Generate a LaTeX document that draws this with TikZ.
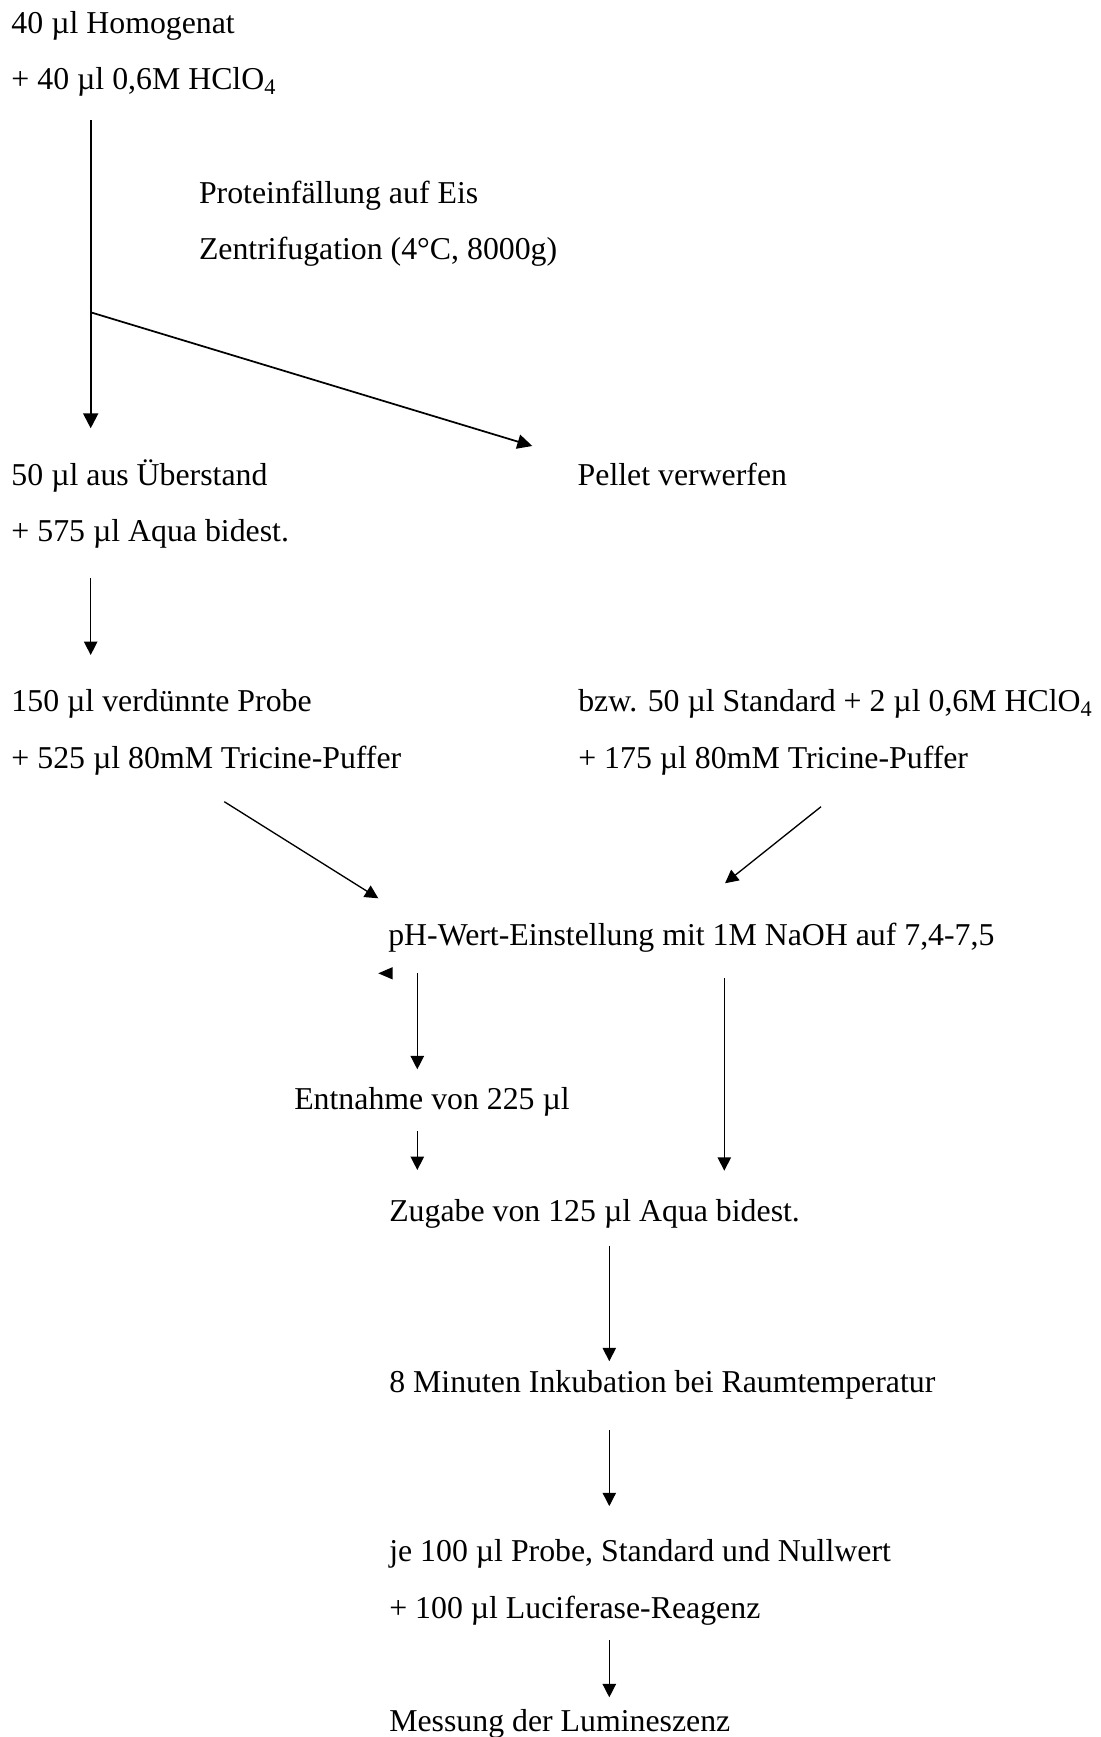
\documentclass[tikz,border=0pt]{standalone}
\usepackage{fontspec}
\setmainfont{Liberation Serif}
\usetikzlibrary{arrows.meta}

\begin{document}
\begin{tikzpicture}[x=0.375pt,y=-0.375pt,
  txt/.style={anchor=base west,inner sep=0pt,outer sep=0pt,font=\fontsize{11.93}{14}\selectfont},
  flow/.style={line width=0.5pt,-{Triangle[length=5pt,width=5pt]}},
  flowbold/.style={line width=0.8pt,-{Triangle[length=5.6pt,width=5.6pt]}},
  branch/.style={line width=0.65pt,-{Triangle[length=5.6pt,width=5.4pt]}}]
\useasboundingbox (0,0) rectangle (1100,1737);

% --- text blocks (positioned by baseline) ---
\node[txt] (homog)  at (11.5,33.3)   {40 µl Homogenat};
\node[txt] (hclo)   at (11.5,89.5)   {+ 40 µl 0,6M HClO\textsubscript{4}};
\node[txt] (prot)   at (199,203)     {Proteinfällung auf Eis};
\node[txt] (zentr)  at (199,259)     {Zentrifugation (4°C, 8000g)};
\node[txt] (ueber)  at (11.5,485)    {50 µl aus Überstand};
\node[txt] (pellet) at (577.7,485.5) {Pellet verwerfen};
\node[txt] (aqua)   at (11.5,541.7)  {+ 575 µl Aqua bidest.};
\node[txt] (probe)  at (11.5,711.5)  {150 µl verdünnte Probe};
\node[txt] (puffa)  at (11.5,768.7)  {+ 525 µl 80mM Tricine-Puffer};
\node[txt] (std)    at (578.3,711.2) {bzw. 50 µl Standard + 2 µl 0,6M HClO\textsubscript{4}};
\node[txt] (puffb)  at (578.3,768.5) {+ 175 µl 80mM Tricine-Puffer};
\node[txt] (ph)     at (388.3,945)   {pH-Wert-Einstellung mit 1M NaOH auf 7,4-7,5};
\node[txt] (entn)   at (294.3,1109)  {Entnahme von 225 µl};
\node[txt] (zugabe) at (389.3,1221.5){Zugabe von 125 µl Aqua bidest.};
\node[txt] (inkub)  at (389.3,1392.4){8 Minuten Inkubation bei Raumtemperatur};
\node[txt] (je)     at (389.3,1561.9){je 100 µl Probe, Standard und Nullwert};
\node[txt] (luci)   at (389.3,1618.2){+ 100 µl Luciferase-Reagenz};
\node[txt] (mess)   at (389.3,1731.3){Messung der Lumineszenz};

% --- connector end points ---
\coordinate (s1)  at (90.7,120);
\coordinate (e1)  at (90.7,428.3);
\coordinate (br)  at (90.7,312.3);
\coordinate (e2)  at (532.3,446);
\coordinate (s3)  at (90.7,578.3);
\coordinate (e3)  at (90.7,655);
\coordinate (s4)  at (224.3,801.7);
\coordinate (e4)  at (378.3,898.3);
\coordinate (s5)  at (821,806.7);
\coordinate (e5)  at (725,883.3);
\coordinate (tipL) at (378.3,973.3);
\coordinate (s6)  at (417.3,973.3);
\coordinate (e6)  at (417.3,1069.3);
\coordinate (s7)  at (417.3,1131);
\coordinate (e7)  at (417.3,1170);
\coordinate (s8)  at (724.3,978.3);
\coordinate (e8)  at (724.3,1170.7);
\coordinate (s9)  at (609.3,1245.7);
\coordinate (e9)  at (609.3,1361.2);
\coordinate (s10) at (609.3,1430.4);
\coordinate (e10) at (609.3,1506.1);
\coordinate (s11) at (609.3,1640);
\coordinate (e11) at (609.3,1697.3);

% --- connectors ---
\draw[flowbold] (s1) -- (e1);
\draw[branch] (br) -- (e2);
\draw[flow] (s3) -- (e3);
\draw[flow] (s4) -- (e4);
\draw[flow] (s5) -- (e5);
\fill (tipL) -- ++(14.4,-6.2) -- ++(0,12.4) -- cycle;
\draw[flow] (s6) -- (e6);
\draw[flow] (s7) -- (e7);
\draw[flow] (s8) -- (e8);
\draw[flow] (s9) -- (e9);
\draw[flow] (s10) -- (e10);
\draw[flow] (s11) -- (e11);
\end{tikzpicture}
\end{document}
